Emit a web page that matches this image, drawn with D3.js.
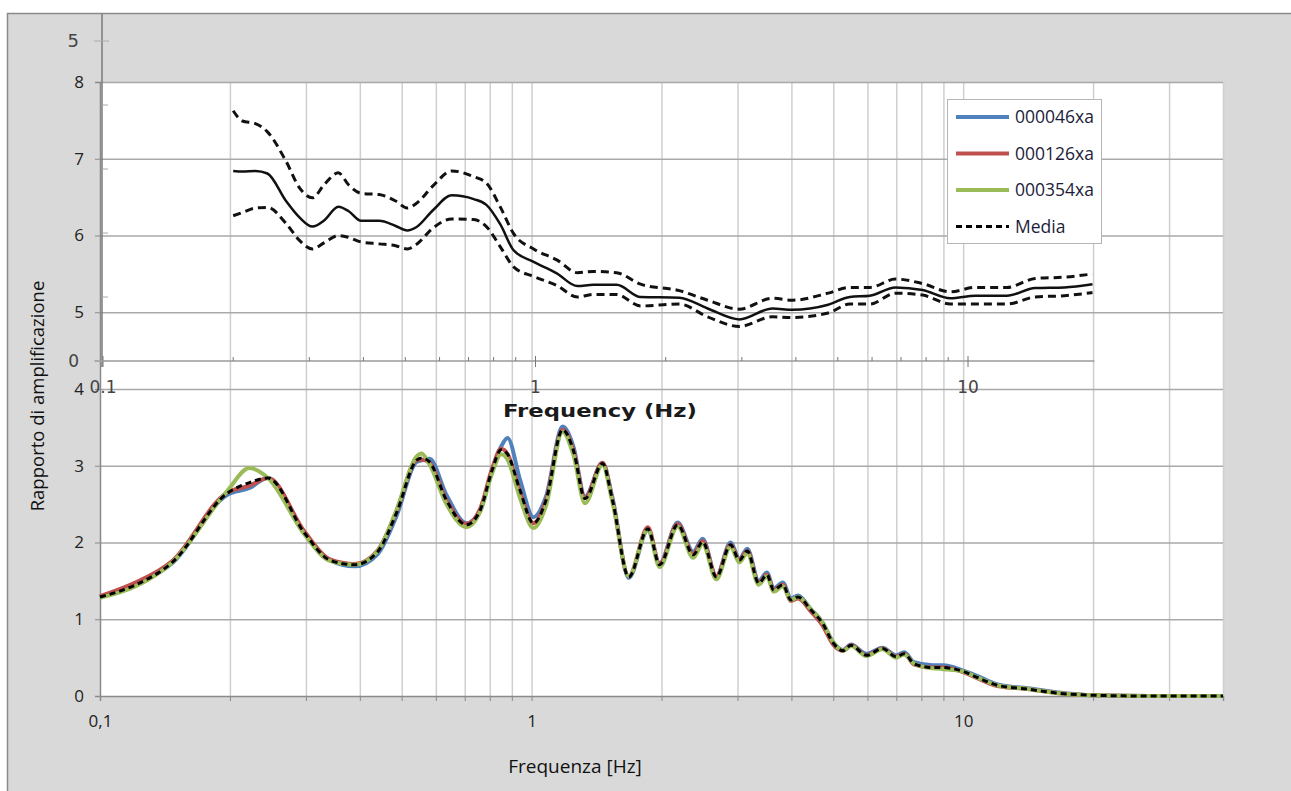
<!DOCTYPE html>
<html>
<head>
<meta charset="utf-8">
<script src="https://cdn.jsdelivr.net/npm/d3@7/dist/d3.min.js"></script>
<style>
  body { margin: 0; background: #fff; }
  svg { display: block; font-family: "Open Sans", sans-serif; }
</style>
</head>
<body>
<script>
// ---- data : rapporto di amplificazione (Excel chart) ----
var freq = [0.1, 0.12, 0.147, 0.197, 0.222, 0.245, 0.298, 0.341, 0.389, 0.44,
            0.486, 0.541, 0.556, 0.58, 0.635, 0.706, 0.76, 0.81, 0.85, 0.88,
            0.94, 1.01, 1.08, 1.18, 1.25, 1.33, 1.46, 1.54, 1.68, 1.86,
            1.98, 2.18, 2.37, 2.49, 2.68, 2.89, 3.03, 3.16, 3.36, 3.51,
            3.64, 3.82, 3.99, 4.14, 4.44, 4.72, 5.0, 5.27, 5.5, 5.97,
            6.5, 7.0, 7.3, 7.7, 8.5, 9.0, 10, 10.7, 12, 14.1,
            16.4, 19.9, 27, 40];

var s000046xa = [1.29, 1.45, 1.73, 2.62, 2.71, 2.84, 2.12, 1.77, 1.69, 1.85,
                 2.34, 3.05, 3.07, 3.09, 2.62, 2.25, 2.41, 2.95, 3.25, 3.36,
                 2.82, 2.33, 2.60, 3.51, 3.25, 2.60, 3.04, 2.58, 1.54, 2.16,
                 1.73, 2.26, 1.88, 2.05, 1.56, 2.00, 1.79, 1.92, 1.50, 1.61,
                 1.40, 1.48, 1.27, 1.31, 1.13, 0.96, 0.70, 0.60, 0.67, 0.55,
                 0.63, 0.53, 0.57, 0.44, 0.40, 0.40, 0.33, 0.27, 0.15, 0.10,
                 0.05, 0.01, 0.0, 0.0];

var s000126xa = [1.30, 1.47, 1.76, 2.65, 2.74, 2.84, 2.14, 1.78, 1.72, 1.90,
                 2.40, 3.07, 3.08, 3.04, 2.55, 2.24, 2.44, 2.96, 3.22, 3.15,
                 2.66, 2.25, 2.55, 3.47, 3.20, 2.58, 3.04, 2.55, 1.56, 2.20,
                 1.72, 2.24, 1.85, 2.02, 1.56, 1.97, 1.77, 1.89, 1.47, 1.58,
                 1.38, 1.45, 1.24, 1.27, 1.10, 0.92, 0.67, 0.59, 0.66, 0.53,
                 0.62, 0.51, 0.55, 0.41, 0.37, 0.37, 0.31, 0.24, 0.13, 0.09,
                 0.04, 0.01, 0.0, 0.0];

var s000354xa = [1.28, 1.42, 1.74, 2.67, 2.97, 2.84, 2.10, 1.76, 1.71, 1.89,
                 2.42, 3.12, 3.16, 3.02, 2.50, 2.20, 2.40, 2.90, 3.15, 3.08,
                 2.58, 2.19, 2.48, 3.44, 3.14, 2.51, 3.01, 2.52, 1.56, 2.17,
                 1.68, 2.21, 1.80, 1.98, 1.52, 1.94, 1.74, 1.86, 1.45, 1.56,
                 1.36, 1.43, 1.25, 1.29, 1.13, 0.96, 0.70, 0.59, 0.65, 0.52,
                 0.61, 0.50, 0.54, 0.42, 0.36, 0.35, 0.32, 0.25, 0.14, 0.09,
                 0.04, 0.01, 0.0, 0.0];

var media = [1.29, 1.44, 1.74, 2.64, 2.78, 2.84, 2.12, 1.77, 1.71, 1.88,
             2.38, 3.07, 3.10, 3.05, 2.55, 2.23, 2.42, 2.94, 3.21, 3.15,
             2.68, 2.25, 2.55, 3.47, 3.20, 2.57, 3.03, 2.55, 1.55, 2.18,
             1.71, 2.23, 1.84, 2.01, 1.55, 1.97, 1.77, 1.89, 1.47, 1.58,
             1.38, 1.45, 1.25, 1.29, 1.12, 0.95, 0.69, 0.59, 0.66, 0.53,
             0.62, 0.51, 0.55, 0.42, 0.37, 0.37, 0.32, 0.25, 0.14, 0.09,
             0.04, 0.01, 0.0, 0.0];

var seriesNames = ["000046xa", "000126xa", "000354xa", "Media"];
var seriesColors = ["#4f81bd", "#c0504d", "#9bbb59", "#000000"];

var yTicks = [0, 1, 2, 3, 4, 5, 6, 7, 8];
var xGridTicks = [0.2, 0.3, 0.4, 0.5, 0.6, 0.7, 0.8, 0.9, 1, 2, 3, 4, 5, 6, 7, 8, 9, 10, 20, 30, 40];
var xLabelTicks = [0.1, 1, 10];

// ---- data : pasted picture (mean +/- std, Frequency (Hz)) ----
var topFreq = [0.2, 0.21, 0.225, 0.24, 0.265, 0.285, 0.305, 0.325, 0.35, 0.37,
               0.395, 0.435, 0.475, 0.505, 0.53, 0.58, 0.64, 0.72, 0.77, 0.83,
               0.89, 0.99, 1.12, 1.25, 1.36, 1.54, 1.75, 2.15, 2.5, 2.96,
               3.53, 3.93, 4.75, 5.33, 5.93, 6.8, 7.85, 9.1, 10.4, 12.3,
               14.3, 16.7, 19.4];
var topMean = [2.97, 2.96, 2.97, 2.93, 2.50, 2.24, 2.10, 2.20, 2.41, 2.34,
               2.19, 2.19, 2.11, 2.04, 2.09, 2.36, 2.59, 2.53, 2.44, 2.13,
               1.73, 1.55, 1.37, 1.17, 1.19, 1.19, 1.00, 0.99, 0.82, 0.65,
               0.82, 0.80, 0.88, 1.00, 1.02, 1.15, 1.11, 0.98, 1.02, 1.02,
               1.14, 1.15, 1.20];
var topUpper = [3.91, 3.75, 3.71, 3.58, 3.12, 2.70, 2.55, 2.76, 2.94, 2.75,
                2.62, 2.60, 2.50, 2.39, 2.46, 2.74, 2.97, 2.88, 2.78, 2.40,
                1.99, 1.75, 1.58, 1.38, 1.40, 1.38, 1.20, 1.10, 0.95, 0.81,
                0.98, 0.95, 1.06, 1.15, 1.15, 1.28, 1.21, 1.08, 1.15, 1.15,
                1.29, 1.31, 1.36];
var topLower = [2.27, 2.32, 2.39, 2.40, 2.15, 1.88, 1.75, 1.85, 1.96, 1.93,
                1.86, 1.83, 1.80, 1.75, 1.82, 2.08, 2.22, 2.21, 2.10, 1.78,
                1.47, 1.32, 1.18, 1.00, 1.04, 1.04, 0.86, 0.89, 0.69, 0.54,
                0.69, 0.68, 0.75, 0.89, 0.89, 1.06, 1.03, 0.89, 0.89, 0.89,
                1.00, 1.02, 1.07];
var topMinorX = [0.2, 0.3, 0.4, 0.5, 0.6, 0.7, 0.8, 0.9, 2, 3, 4, 5, 6, 7, 8, 9];
var topMajorX = [0.1, 1, 10];
var topYMinor = [1, 2, 3, 4];

// define margin (Excel plot area)
var margin = {top: 82, right: 68, bottom: 95, left: 100},
    width = 1291 - margin.left - margin.right,
    height = 791 - margin.top - margin.bottom;

// create SVG element
var svg = d3.select("body").append("svg")
    .attr("width", 1291)
    .attr("height", 791);

// chart area (grey)
svg.append("rect")
    .attr("x", 7.5).attr("y", 13.5)
    .attr("width", 1300).attr("height", 800)
    .attr("fill", "#d9d9d9")
    .attr("stroke", "#8a8a8a")
    .attr("stroke-width", 1.5);

var g = svg.append("g")
    .attr("transform", "translate(" + margin.left + "," + margin.top + ")");

g.append("rect")
    .attr("width", width)
    .attr("height", height)
    .attr("fill", "#fff");

// scales
var x = d3.scaleLog().domain([0.1, 40]).range([0, width]);
var y = d3.scaleLinear().domain([0, 8]).range([height, 0]);

// vertical gridlines
g.append("g")
    .attr("class", "grid")
    .attr("transform", "translate(0," + height + ")")
    .call(d3.axisBottom(x).tickValues(xGridTicks).tickSize(-height).tickFormat(""))
    .call(function(s) {
        s.select(".domain").remove();
        s.selectAll("line").attr("stroke", "#cfcfcf").attr("stroke-width", 1.5);
    });

// horizontal gridlines
g.append("g")
    .attr("class", "grid")
    .call(d3.axisLeft(y).tickValues(yTicks.slice(1)).tickSize(-width).tickFormat(""))
    .call(function(s) {
        s.select(".domain").remove();
        s.selectAll("line").attr("stroke", "#a9a9a9").attr("stroke-width", 1.5);
    });

// x axis
g.append("g")
    .attr("class", "x axis")
    .attr("transform", "translate(0," + height + ")")
    .call(d3.axisBottom(x).tickValues([0.1].concat(xGridTicks)).tickSize(5).tickPadding(14)
        .tickFormat(function(d) {
            if (xLabelTicks.indexOf(d) < 0) return "";
            return d === 0.1 ? "0,1" : d3.format("d")(d);
        }))
    .call(function(s) {
        s.select(".domain").attr("stroke", "#8a8a8a").attr("stroke-width", 1.5);
        s.selectAll("line").attr("stroke", "#8a8a8a");
        s.selectAll("text").attr("fill", "#222").style("font-size", "17px")
            .style("font-family", "Open Sans, sans-serif");
    });

// y axis
g.append("g")
    .attr("class", "y axis")
    .call(d3.axisLeft(y).tickValues(yTicks).tickSize(5).tickPadding(11).tickFormat(d3.format("d")))
    .call(function(s) {
        s.select(".domain").attr("stroke", "#8a8a8a").attr("stroke-width", 1.5);
        s.selectAll("line").attr("stroke", "#8a8a8a");
        s.selectAll("text").attr("fill", "#222").style("font-size", "17px")
            .style("font-family", "Open Sans, sans-serif");
    });

// axis titles
svg.append("text")
    .attr("transform", "translate(44,396) rotate(-90)")
    .attr("text-anchor", "middle")
    .style("font-size", "18.5px")
    .attr("fill", "#111")
    .text("Rapporto di amplificazione");

svg.append("text")
    .attr("x", 575)
    .attr("y", 773)
    .attr("text-anchor", "middle")
    .style("font-size", "19px")
    .attr("fill", "#111")
    .text("Frequenza [Hz]");

// series lines
var allSeries = [s000046xa, s000126xa, s000354xa, media];

var line = d3.line()
    .x(function(d, i) { return x(freq[i]); })
    .y(function(d) { return y(d); })
    .curve(d3.curveMonotoneX);

allSeries.forEach(function(vals, k) {
    g.append("path")
        .datum(vals)
        .attr("fill", "none")
        .attr("stroke", seriesColors[k])
        .attr("stroke-width", k === 3 ? 3 : 4)
        .attr("stroke-dasharray", k === 3 ? "6,4" : null)
        .attr("stroke-linejoin", "round")
        .attr("d", line);
});

// ---- pasted picture overlay ----
var xPic = d3.scaleLog().domain([0.1, 10]).range([103, 968]);
var yPic = d3.scaleLinear().domain([0, 5]).range([361, 41]);
var pic = svg.append("g").attr("class", "overlay");

// its axes
pic.append("line")
    .attr("x1", 102).attr("x2", 102).attr("y1", 14).attr("y2", 367)
    .attr("stroke", "#7a7a7a").attr("stroke-width", 1.5);
pic.append("line")
    .attr("x1", 95).attr("x2", xPic(19.6)).attr("y1", yPic(0)).attr("y2", yPic(0))
    .attr("stroke", "#9a9a9a").attr("stroke-width", 1.5);

pic.selectAll(".tminx").data(topMinorX).enter().append("line")
    .attr("x1", function(d) { return xPic(d); })
    .attr("x2", function(d) { return xPic(d); })
    .attr("y1", yPic(0) - 4).attr("y2", yPic(0))
    .attr("stroke", "#777");
pic.selectAll(".tmajx").data(topMajorX).enter().append("line")
    .attr("x1", function(d) { return xPic(d); })
    .attr("x2", function(d) { return xPic(d); })
    .attr("y1", yPic(0) - 5).attr("y2", yPic(0) + 6)
    .attr("stroke", "#777");
pic.selectAll(".tlabx").data(topMajorX).enter().append("text")
    .attr("x", function(d) { return xPic(d); })
    .attr("y", 393)
    .attr("text-anchor", "middle")
    .style("font-family", "DejaVu Sans, sans-serif")
    .style("font-size", "17px")
    .attr("fill", "#444")
    .text(function(d) { return d === 0.1 ? "0.1" : d; });

pic.selectAll(".tminy").data(topYMinor).enter().append("line")
    .attr("x1", 102).attr("x2", 108)
    .attr("y1", function(d) { return yPic(d); })
    .attr("y2", function(d) { return yPic(d); })
    .attr("stroke", "#aaa");
pic.selectAll(".tmajy").data([0, 5]).enter().append("line")
    .attr("x1", 94).attr("x2", 109)
    .attr("y1", function(d) { return yPic(d); })
    .attr("y2", function(d) { return yPic(d); })
    .attr("stroke", "#aaa");
pic.selectAll(".tlaby").data([0, 5]).enter().append("text")
    .attr("x", 79)
    .attr("y", function(d) { return yPic(d) + 6; })
    .attr("text-anchor", "end")
    .style("font-family", "DejaVu Sans, sans-serif")
    .style("font-size", function(d) { return d === 5 ? "18px" : "17px"; })
    .attr("fill", "#444")
    .text(function(d) { return d; });

pic.append("text")
    .attr("x", 503)
    .attr("y", 417)
    .attr("textLength", 194)
    .attr("lengthAdjust", "spacingAndGlyphs")
    .style("font-family", "DejaVu Sans, sans-serif")
    .style("font-weight", "bold")
    .style("font-size", "18px")
    .attr("fill", "#1a1a1a")
    .text("Frequency (Hz)");

// mean and +/- curves
var picLine = d3.line()
    .x(function(d, i) { return xPic(topFreq[i]); })
    .y(function(d) { return yPic(d); })
    .curve(d3.curveMonotoneX);

[topUpper, topMean, topLower].forEach(function(vals, k) {
    pic.append("path")
        .datum(vals)
        .attr("fill", "none")
        .attr("stroke", "#111")
        .attr("stroke-width", k === 1 ? 2.5 : 3)
        .attr("stroke-dasharray", k === 1 ? null : "8,5")
        .attr("d", picLine);
});

// ---- legend ----
var legend = svg.append("g").attr("transform", "translate(947,99)");
legend.append("rect")
    .attr("x", 0.5).attr("y", 0.5)
    .attr("width", 154).attr("height", 144)
    .attr("fill", "#fff")
    .attr("stroke", "#b5b5b5");

var items = legend.selectAll(".item")
    .data(seriesNames)
    .enter().append("g")
    .attr("transform", function(d, i) { return "translate(0," + (18 + i * 36.5) + ")"; });

items.append("line")
    .attr("x1", 9).attr("x2", 62)
    .attr("stroke", function(d, i) { return seriesColors[i]; })
    .attr("stroke-width", function(d, i) { return i === 3 ? 3 : 4; })
    .attr("stroke-dasharray", function(d, i) { return i === 3 ? "6,4" : null; });

items.append("text")
    .attr("x", 68)
    .attr("dy", "0.35em")
    .style("font-size", "17.5px")
    .attr("fill", "#1d1d3a")
    .text(function(d) { return d; });
</script>
</body>
</html>
